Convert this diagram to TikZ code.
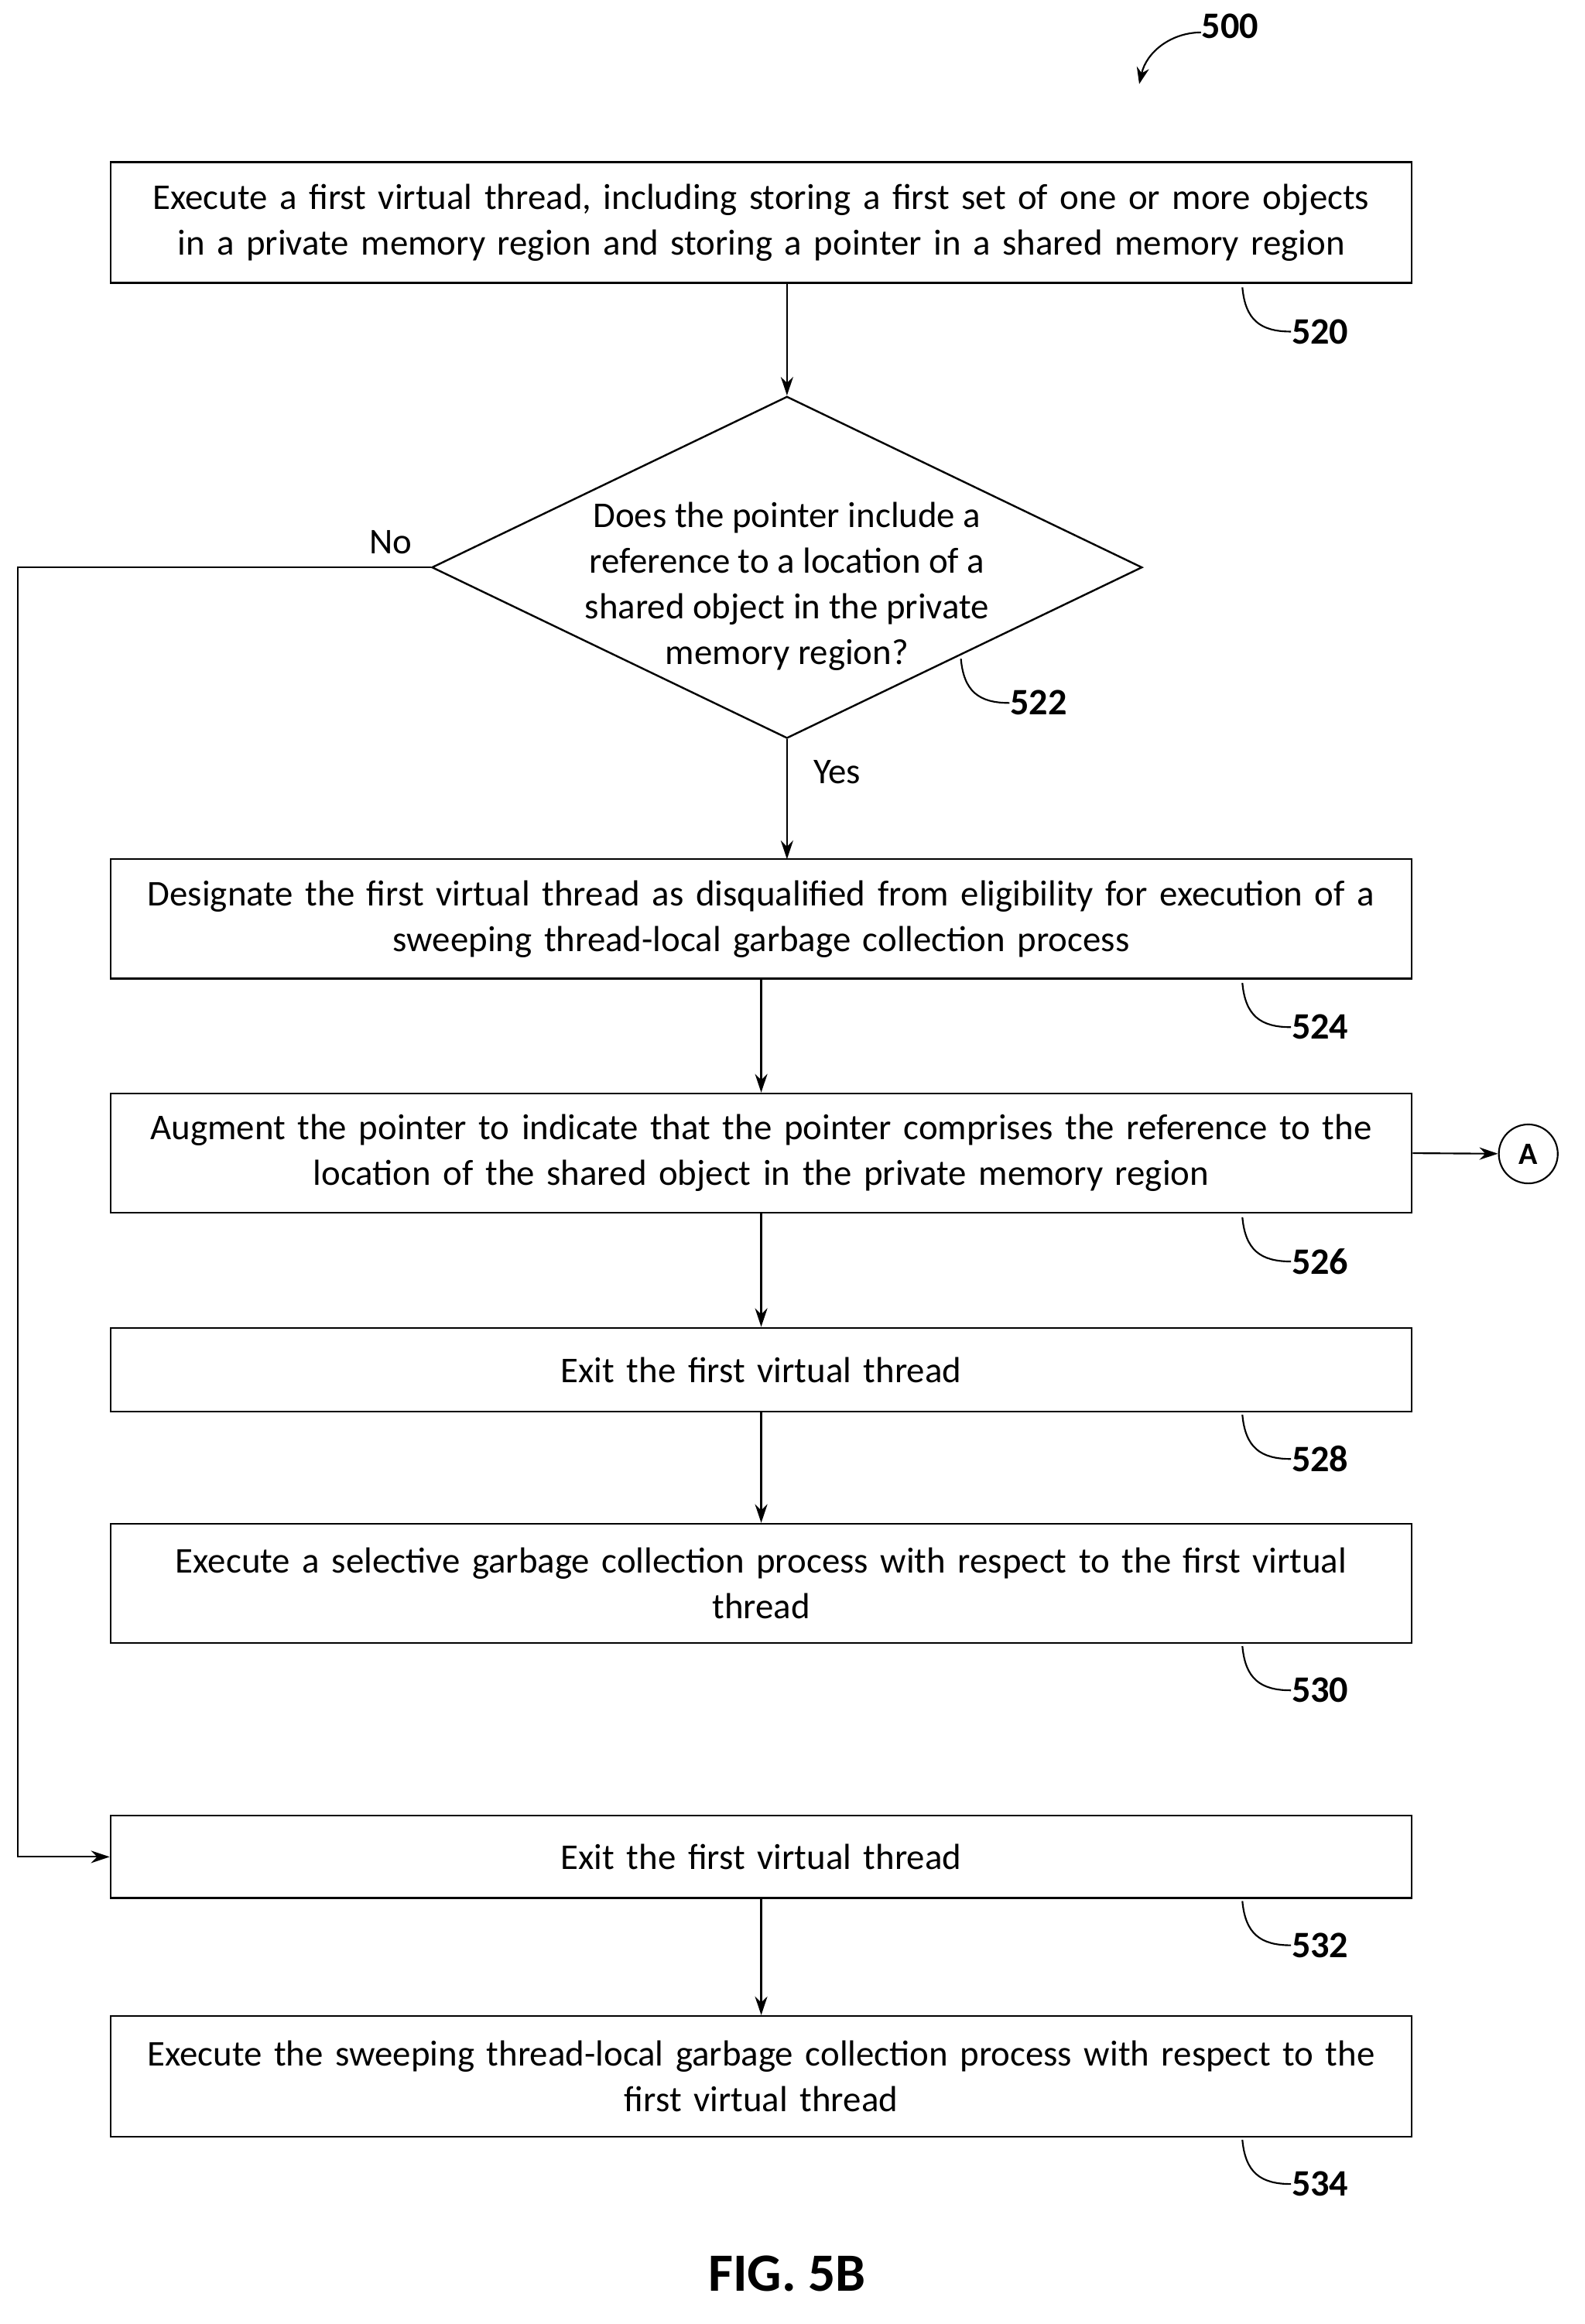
\documentclass[tikz,border=0pt]{standalone}
\usepackage{fontspec}
\setmainfont{Carlito}
\usetikzlibrary{shapes.geometric,arrows.meta}
\begin{document}
\begin{tikzpicture}[x=0.05cm,y=-0.05cm,
  every node/.style={font=\fontsize{35}{44}\selectfont},
  box/.style={draw,line width=1.8pt,minimum width=44.15cm,text width=44cm,align=center,inner sep=0pt},
  arr/.style={line width=1.6pt,-{Stealth[length=18pt,width=12pt]}},
  lead/.style={line width=1.6pt}]
\useasboundingbox (0,0) rectangle (1075,1577);
\node[box,minimum height=4.1cm] (b520) at (516.5,151) {Execute a first virtual thread, including storing a first set of one or more objects\\in a private memory region and storing a pointer in a shared memory region};
\node[draw,line width=1.8pt,diamond,aspect=2.08,minimum width=24.1cm,minimum height=11.6cm,inner sep=0pt,align=center] (d522) at (534,385) {};
\node[align=center] (t522) at (534,398) {Does the pointer include a\\reference to a location of a\\shared object in the private\\memory region?};
\node[box,minimum height=4.05cm] (b524) at (516.5,623.5) {Designate the first virtual thread as disqualified from eligibility for execution of a\\sweeping thread-local garbage collection process};
\node[box,minimum height=4.05cm] (b526) at (516.5,782.5) {Augment the pointer to indicate that the pointer comprises the reference to the\\location of the shared object in the private memory region};
\node[draw,circle,line width=1.6pt,minimum size=2cm,inner sep=0pt,font=\bfseries\fontsize{30}{32}\selectfont] (A) at (1037,783) {A};
\node[box,minimum height=2.85cm] (b528) at (516.5,929.5) {Exit the first virtual thread};
\node[box,minimum height=4.05cm] (b530) at (516.5,1074.5) {Execute a selective garbage collection process with respect to the first virtual\\thread};
\node[box,minimum height=2.8cm] (b532) at (516.5,1260) {Exit the first virtual thread};
\node[box,minimum height=4.1cm] (b534) at (516.5,1409) {Execute the sweeping thread-local garbage collection process with respect to the\\first virtual thread};
\coordinate (c1) at (534,192);
\draw[arr] (c1) -- (d522.north);
\draw[arr] (d522.south) -- (534,583);
\draw[arr] (b524) -- (b526);
\draw[arr] (b526) -- (b528);
\draw[arr] (b528) -- (b530);
\draw[arr] (b532) -- (b534);
\draw[arr] (b526.east) -- (A);
\coordinate (n1) at (12,385);
\coordinate (n2) at (12,1260);
\draw[arr] (d522.west) -- (n1) -- (n2) -- (b532.west);
\node (no) at (265,368) {No};
\node (yes) at (568,524) {Yes};
\foreach \x/\y/\n in {843/195/520,652/447/522,843/667/524,843/826/526,843/960/528,843/1117/530,843/1290/532,843/1452/534}{
  \draw[lead] (\x,\y) .. controls (\x+2,\y+22) and (\x+12,\y+30) .. (\x+33,\y+30);
  \node[anchor=west,font=\bfseries\fontsize{36}{40}\selectfont] (r\n) at (\x+31,\y+30) {\n};
}
\node[anchor=west,font=\bfseries\fontsize{36}{40}\selectfont] (r500) at (813,18) {500};
\draw[line width=1.6pt,-{Stealth[length=16pt,width=12pt]}] (815,22) .. controls (795,22) and (778,35) .. (773,57);
\node[font=\bfseries\fontsize{52}{56}\selectfont] (fig) at (534,1543) {FIG. 5B};
\end{tikzpicture}
\end{document}
